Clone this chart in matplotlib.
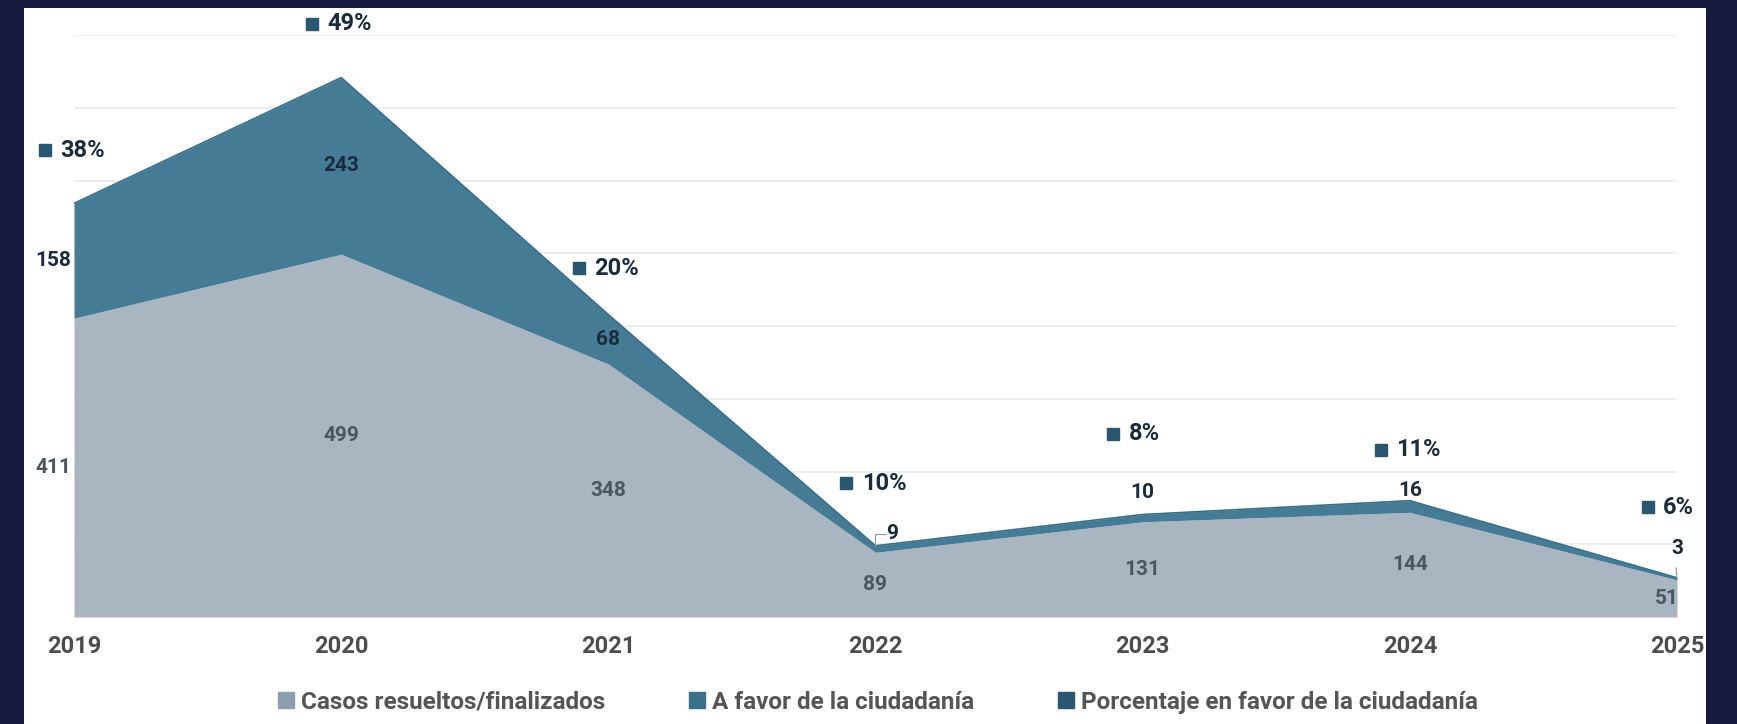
import numpy as np
import matplotlib.pyplot as plt
from matplotlib.patches import Rectangle
from matplotlib.lines import Line2D
from matplotlib.transforms import offset_copy

# ---------- data ----------
years      = ["2019", "2020", "2021", "2022", "2023", "2024", "2025"]
resueltos  = [411, 499, 348, 89, 131, 144, 51]
a_favor    = [158, 243, 68, 9, 10, 16, 3]
porcentaje = [38, 49, 20, 10, 8, 11, 6]

# hand-placed label offsets (layout only, like the Excel original)
pct_dy   = [73, 74, 64, 86, 111, 70, 97]      # above stack top, data units
fav_dy   = [None, None, None, 12, 22, 10, 29]  # px above top for thin bands

# ---------- colours ----------
frame_col = "#171a3f"
c_res     = "#a9b5c1"
c_fav     = "#457b95"
c_pct     = "#2a5670"
c_txt_res = "#4b5663"
c_txt_fav = "#1b2b3b"

plt.rcParams["font.family"] = ["Roboto", "DejaVu Sans"]
plt.rcParams["font.weight"] = "bold"

fig = plt.figure(figsize=(17.37, 7.24), dpi=100, facecolor=frame_col)
panel = Rectangle((24 / 1737, 0), (1706 - 24) / 1737, 1 - 8 / 724,
                  transform=fig.transFigure, facecolor="white",
                  edgecolor="none", zorder=-5)
fig.patches.append(panel)
ax = fig.add_axes([74 / 1737, 107 / 724, (1677 - 74) / 1737, (688.6 - 107) / 724])
ax.set_zorder(2)
ax.set_facecolor("none")

x = np.arange(len(years))
res = np.array(resueltos)
fav = np.array(a_favor)
top = res + fav

ax.fill_between(x, 0, res, color=c_res, lw=0, zorder=2)
ax.fill_between(x, res, top, color=c_fav, lw=0, zorder=2)
ax.plot(x, top, color="#3a6f8a", lw=1.2, zorder=3)

ax.set_xlim(0, 6)
ax.set_ylim(0, 800)
ax.set_yticks(np.arange(0, 801, 100))
ax.yaxis.grid(True, color="#ececec", lw=1.3, zorder=0)
ax.set_axisbelow(True)
ax.tick_params(axis="y", left=False, labelleft=False)
ax.set_xticks(x)
ax.set_xticklabels(years, fontsize=17, color="#4d4d4d", fontweight="bold")
ax.tick_params(axis="x", length=0, pad=13)
for s in ax.spines.values():
    s.set_visible(False)

# labels: resueltos (middle of lower band)
for i, v in enumerate(resueltos):
    ha, dx = "center", 0
    if i == 0:
        ha, dx = "right", -2
    elif i == len(years) - 1:
        dx = -7
    tr = offset_copy(ax.transData, fig=fig, x=dx, y=0, units="points")
    ax.text(x[i], v / 2, str(v), ha=ha, va="center", fontsize=15,
            color=c_txt_res, fontweight="bold", transform=tr, zorder=5)

# labels: a favor
for i, v in enumerate(a_favor):
    if fav_dy[i] is None:
        ha, dx = ("right", -2) if i == 0 else ("center", 0)
        tr = offset_copy(ax.transData, fig=fig, x=dx, y=0, units="points")
        ax.text(x[i], resueltos[i] + v / 2, str(v), ha=ha, va="center",
                fontsize=15, color=c_txt_fav, fontweight="bold",
                transform=tr, zorder=5)
    else:
        dx = 17 if i == 3 else 0
        ax.annotate(str(v), xy=(x[i], top[i]),
                    xytext=(dx, fav_dy[i]), textcoords="offset pixels",
                    ha="center", va="center", fontsize=15, color=c_txt_fav,
                    fontweight="bold", zorder=5)
# leader lines for the thin labels
ax.annotate("", xy=(x[3], top[3]), xytext=(11, 12), textcoords="offset pixels",
            arrowprops=dict(arrowstyle="-", color="#9a9a9a", lw=0.9,
                            connectionstyle="angle,angleA=0,angleB=90,rad=0",
                            shrinkA=0, shrinkB=0))
ax.annotate("", xy=(x[6], top[6]), xytext=(-1, 10), textcoords="offset pixels",
            arrowprops=dict(arrowstyle="-", color="#9a9a9a", lw=0.9,
                            shrinkA=0, shrinkB=0))

# percentage labels with square key
for i, p in enumerate(porcentaje):
    yy = top[i] + pct_dy[i]
    tr_m = offset_copy(ax.transData, fig=fig, x=-21, y=0, units="points")
    tr_t = offset_copy(ax.transData, fig=fig, x=-10, y=0, units="points")
    ax.plot(x[i], yy, marker="s", ms=8, color=c_pct, transform=tr_m,
            clip_on=False, zorder=6)
    ax.text(x[i], yy, f"{p}%", ha="left", va="center", fontsize=17,
            color=c_txt_fav, fontweight="bold", transform=tr_t, zorder=6)

# legend
handles = [Line2D([], [], marker="s", ls="", ms=12, color="#8c9db0"),
           Line2D([], [], marker="s", ls="", ms=12, color="#3b7089"),
           Line2D([], [], marker="s", ls="", ms=12, color=c_pct)]
labels = ["Casos resueltos/finalizados", "A favor de la ciudadanía",
          "Porcentaje en favor de la ciudadanía"]
leg = fig.legend(handles, labels, loc="center", bbox_to_anchor=(0.505, 0.030),
                 ncol=3, frameon=False, fontsize=17.5, handletextpad=0.2,
                 columnspacing=3.4, handlelength=0.8)
for t in leg.get_texts():
    t.set_color("#555555")
    t.set_fontweight("bold")

fig.savefig("out.png", dpi=100, facecolor=frame_col)
